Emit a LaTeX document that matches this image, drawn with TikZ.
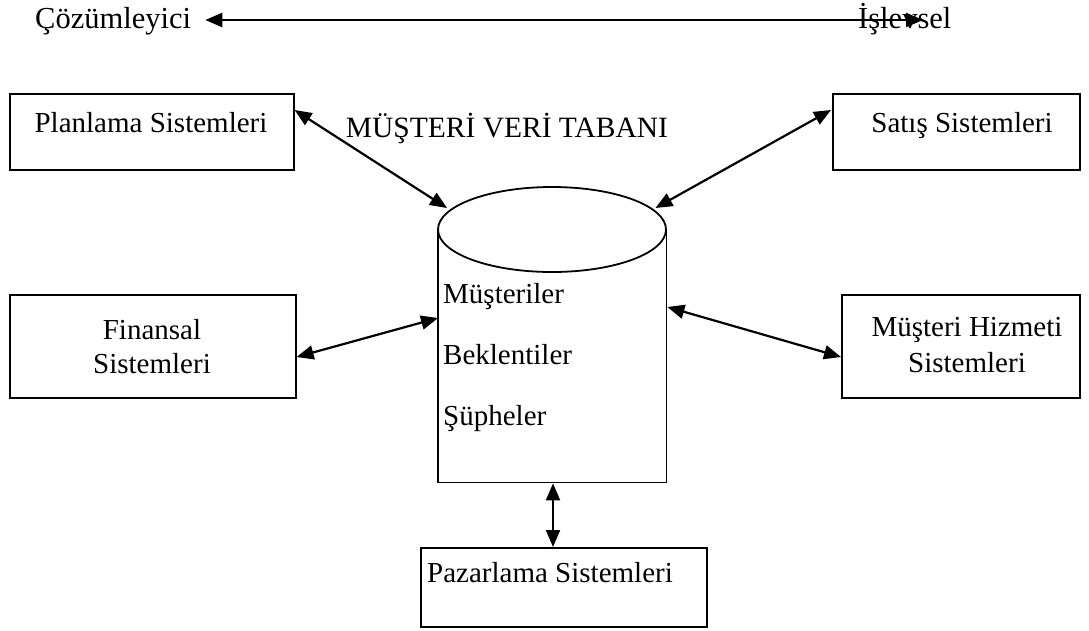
\documentclass[tikz,border=0pt]{standalone}
\usepackage{fontspec}
\setmainfont{Liberation Serif}
\usetikzlibrary{arrows.meta,calc}
\begin{document}
\begin{tikzpicture}[x=1pt,y=-1pt,
  box/.style={draw,line width=1.6pt,inner sep=0pt,anchor=north west},
  lbl/.style={inner sep=0pt,anchor=base,font=\fontsize{29}{33}\selectfont},
  conn/.style={line width=2.2pt,{Triangle[length=17pt,width=14pt]}-{Triangle[length=17pt,width=14pt]}},
]
\useasboundingbox (0,0) rectangle (1089,630);

% top axis
\node[lbl,anchor=base west,font=\fontsize{30.5}{34}\selectfont] (coz) at (35,28) {Çözümleyici};
\node[lbl,anchor=base west,font=\fontsize{30.5}{34}\selectfont] (isl) at (858,28) {İşlevsel};
\draw[conn] ($(coz.base east)+(14,-8)$) -- ($(isl.base west)+(65,-8)$);

% title
\node[lbl,font=\fontsize{29.5}{33}\selectfont] (title) at (507,137) {MÜŞTERİ VERİ TABANI};

% boxes
\node[box,minimum width=284pt,minimum height=76pt] (plan) at (9,93) {};
\node[lbl] (planT) at (151,132) {Planlama Sistemleri};

\node[box,minimum width=247pt,minimum height=76pt] (satis) at (832,93) {};
\node[lbl] (satisT) at (962,132) {Satış Sistemleri};

\node[box,minimum width=286pt,minimum height=103pt] (fin) at (9,294) {};
\node[lbl] (finT1) at (152,339) {Finansal};
\node[lbl] (finT2) at (152,373) {Sistemleri};

\node[box,minimum width=238pt,minimum height=103pt] (mh) at (841,294) {};
\node[lbl] (mhT1) at (967,336) {Müşteri Hizmeti};
\node[lbl] (mhT2) at (967,372) {Sistemleri};

\node[box,minimum width=286pt,minimum height=79pt] (paz) at (420,547) {};
\node[lbl] (pazT) at (550,582) {Pazarlama Sistemleri};

% database cylinder
\node[inner sep=0pt,minimum width=228pt,minimum height=295pt,anchor=north west] (db) at (438,187) {};
\draw[line width=1.8pt] (552,229.5) ellipse [x radius=114, y radius=42.5];
\draw[line width=1.8pt] (db.west |- 0,229.5) -- (db.south west) -- (db.south east) -- (db.east |- 0,229.5);
\node[lbl,anchor=base west] (m1) at (443,303) {Müşteriler};
\node[lbl,anchor=base west] (m2) at (443,364) {Beklentiler};
\node[lbl,anchor=base west] (m3) at (443,425) {Şüpheler};

% connectors
\draw[conn] ($(plan.north east)+(0,17)$) -- ($(db.north west)+(9,21)$);
\draw[conn] ($(satis.north west)+(-1,17)$) -- ($(db.north east)+(-11,21)$);
\draw[conn] ($(fin.north east)+(0,63)$) -- ($(db.north west)+(0,131)$);
\draw[conn] ($(db.north east)+(1,120)$) -- ($(mh.north west)+(0,63)$);
\draw[conn] ($(db.south west)+(115,1)$) -- ($(paz.north west)+(133,0)$);
\end{tikzpicture}
\end{document}
